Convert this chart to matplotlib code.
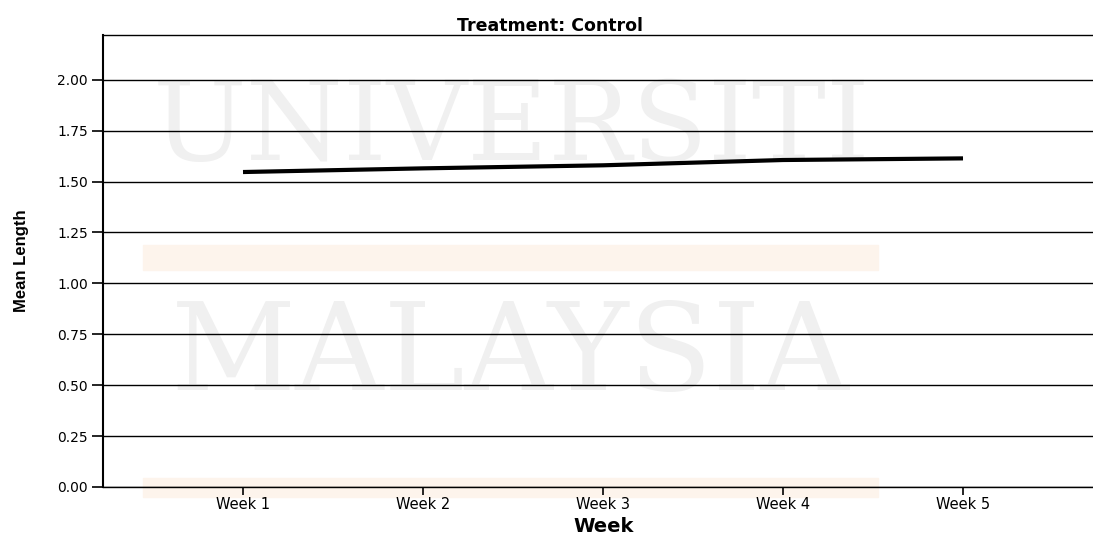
import numpy as np
from matplotlib import pyplot as plt
from matplotlib.patches import Rectangle

# data
weeks = ["Week 1", "Week 2", "Week 3", "Week 4", "Week 5"]
mean_length = [1.547, 1.565, 1.580, 1.606, 1.614]
yticks = [0.0, 0.25, 0.5, 0.75, 1.0, 1.25, 1.5, 1.75, 2.0]

plt.rcParams["font.family"] = ["DejaVu Sans"]

W, H = 1093, 535
fig = plt.figure(figsize=(W / 100, H / 100), dpi=100)
ax = fig.add_axes([103 / W, 1 - 487 / H, 1 - 103 / W, (487 - 35) / H])
ax.set_zorder(2)
ax.set_facecolor("none")

# faint watermark behind the plot
band = "#fdf4ec"
fig.patches.append(Rectangle((143 / W, 1 - 270 / H), 735 / W, 25 / H,
                             transform=fig.transFigure, color=band, zorder=-2))
fig.patches.append(Rectangle((143 / W, 1 - 497 / H), 735 / W, 19 / H,
                             transform=fig.transFigure, color=band, zorder=-2))
fig.text(512 / W, 1 - 130 / H, "UNIVERSITI", family="DejaVu Serif", fontsize=80,
         color="#f0f0f0", ha="center", va="center", zorder=-1)
fig.text(510 / W, 1 - 357 / H, "MALAYSIA", family="DejaVu Serif", fontsize=88,
         color="#f0f0f0", ha="center", va="center", zorder=-1)

x = np.arange(1, len(weeks) + 1)
ax.plot(x, mean_length, color="black", lw=3, solid_capstyle="butt", zorder=3)

ax.set_ylim(0, 2.22)
ax.set_xlim(1 - 140 / 180, 5 + 130 / 180)
ax.set_yticks(yticks)
ax.set_yticklabels([f"{v:.2f}" for v in yticks], fontsize=10)
ax.set_xticks(x)
ax.set_xticklabels(weeks, fontsize=10.5)
ax.yaxis.grid(True, color="black", lw=1)
ax.set_axisbelow(True)
ax.tick_params(axis="y", length=8, width=1.2, pad=3)
ax.tick_params(axis="x", length=6, width=1.2, pad=1)

ax.spines["right"].set_visible(False)
ax.spines["left"].set_linewidth(1.5)
ax.spines["top"].set_linewidth(1)
ax.spines["bottom"].set_linewidth(1)

ax.set_title("Treatment: Control", fontsize=12.5, fontweight="bold", pad=3,
             x=(550 - 103) / 990)
ax.set_xlabel("Week", fontsize=14, fontweight="bold")
ax.xaxis.set_label_coords((604 - 103) / 990, -0.067)
ax.set_ylabel("Mean Length", fontsize=12, fontweight="bold",
              family="Liberation Sans")
ax.yaxis.set_label_coords(-0.075, 0.50)

fig.savefig("out.png", dpi=100)
